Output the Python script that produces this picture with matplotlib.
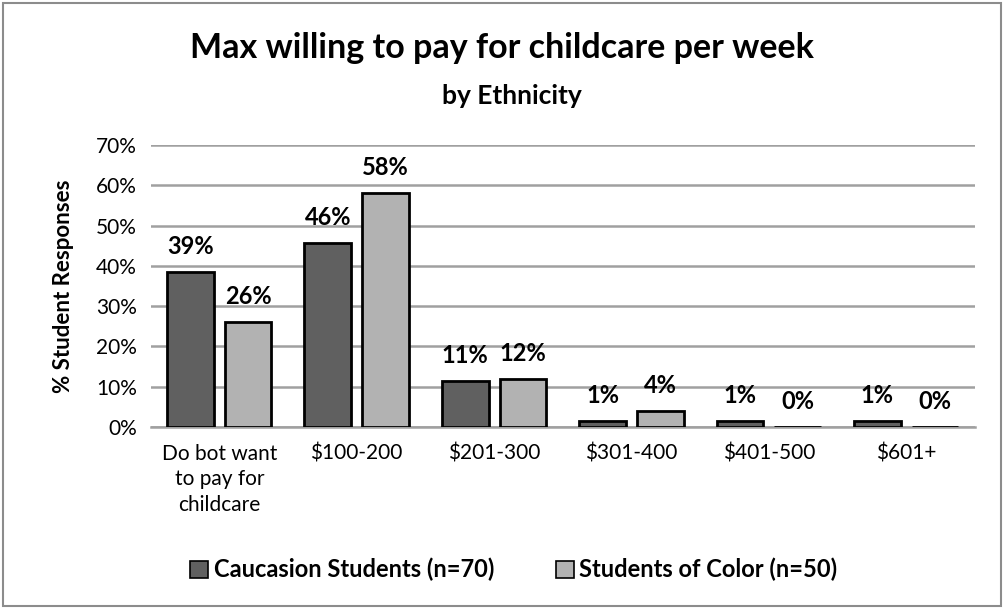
import numpy as np
import matplotlib.pyplot as plt
from matplotlib.patches import Rectangle

# =====================================================
# Data
# =====================================================

categories = ["Do bot want\nto pay for\nchildcare", "$100-200", "$201-300",
              "$301-400", "$401-500", "$601+"]
caucasian = [38.6, 45.7, 11.4, 1.4, 1.4, 1.4]
color_students = [26, 58, 12, 4, 0, 0]
series_names = ["Caucasion Students (n=70)", "Students of Color (n=50)"]
yticks = [0, 10, 20, 30, 40, 50, 60, 70]

plt.rcParams['font.family'] = ['Lato', 'DejaVu Sans']

# =====================================================
# Plot
# =====================================================

fig = plt.figure(figsize=(10.04, 6.08), dpi=100)
ax = fig.add_axes([0.150, 0.2977, 0.821, 0.4638])

x = np.arange(len(categories))
w = 0.34
off = 0.21

b1 = ax.bar(x - off, caucasian, w, color='#606060', edgecolor='black',
            linewidth=2, label=series_names[0], zorder=3)
b2 = ax.bar(x + off, color_students, w, color='#b2b2b2', edgecolor='black',
            linewidth=2, label=series_names[1], zorder=3)

# Value labels
for bars, vals in ((b1, caucasian), (b2, color_students)):
    for rect, v in zip(bars, vals):
        ax.annotate(f"{v:.0f}%", (rect.get_x() + rect.get_width() / 2, v),
                    xytext=(0, 10), textcoords='offset points',
                    ha='center', va='bottom', fontsize=17, fontweight='bold')

ax.set_ylim(0, 70)
ax.set_xlim(-0.5, len(categories) - 0.5)
ax.set_yticks(yticks)
ax.set_yticklabels([f"{t}%" for t in yticks], fontsize=15)
ax.set_xticks(x)
ax.set_xticklabels(categories, fontsize=15, linespacing=1.35, va='top')
ax.tick_params(axis='y', length=0, pad=10)
ax.tick_params(axis='x', length=0, pad=12)
ax.yaxis.grid(True, color='#a0a0a0', linewidth=1.8, zorder=0)
for s in ['top', 'right', 'left']:
    ax.spines[s].set_visible(False)
ax.spines['bottom'].set_color('#a0a0a0')
ax.spines['bottom'].set_linewidth(1.8)

ax.set_ylabel("% Student Responses", fontsize=16, fontweight='bold', labelpad=16)

# =====================================================
# Titles, legend, border
# =====================================================

fig.text(0.500, 0.921, "Max willing to pay for childcare per week",
         ha='center', va='center', fontsize=24.5, fontweight='bold')
fig.text(0.510, 0.842, "by Ethnicity", ha='center', va='center',
         fontsize=19, fontweight='bold')

leg = fig.legend(loc='center', bbox_to_anchor=(0.512, 0.063), ncol=2,
                 frameon=False, prop={'size': 17, 'weight': 'bold'},
                 handlelength=0.75, handleheight=0.75, handletextpad=0.25,
                 columnspacing=2.6)
for h in leg.legend_handles:
    h.set_linewidth(1.2)

fig.patches.append(Rectangle((0.003, 0.003), 0.994, 0.992, transform=fig.transFigure,
                             fill=False, edgecolor='#8c8c8c', linewidth=1.5))

plt.savefig("out.png", dpi=100)
